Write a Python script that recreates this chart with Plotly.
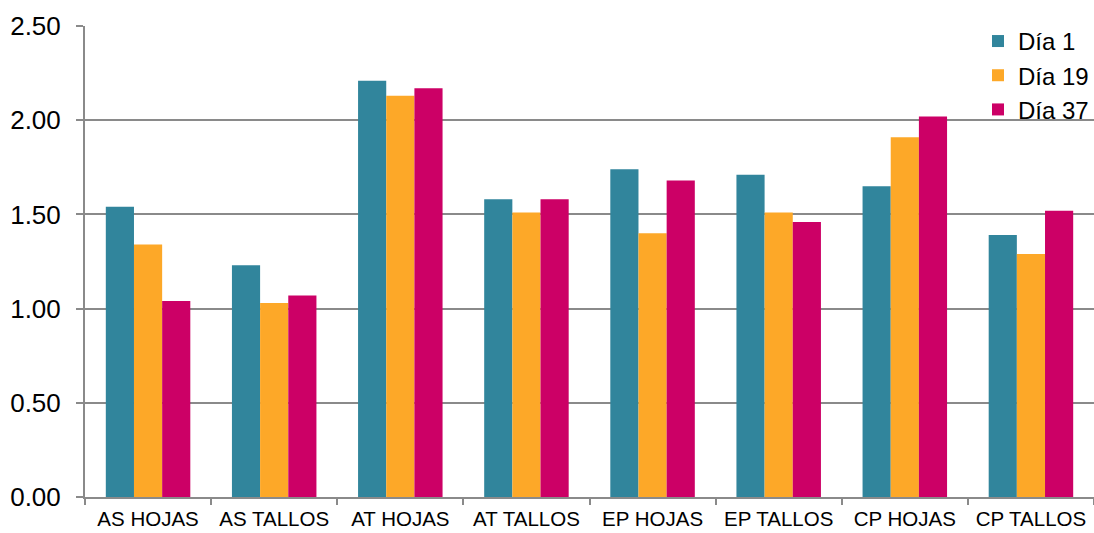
import plotly.graph_objects as go

categories = ["AS HOJAS", "AS TALLOS", "AT HOJAS", "AT TALLOS", "EP HOJAS", "EP TALLOS", "CP HOJAS", "CP TALLOS"]
dia1 = [1.54, 1.23, 2.21, 1.58, 1.74, 1.71, 1.65, 1.39]
dia19 = [1.34, 1.03, 2.13, 1.51, 1.40, 1.51, 1.91, 1.29]
dia37 = [1.04, 1.07, 2.17, 1.58, 1.68, 1.46, 2.02, 1.52]
series_names = ["Día 1", "Día 19", "Día 37"]
colors = ["#31859C", "#FDA828", "#CC0066"]

fig = go.Figure()
for name, vals, col in zip(series_names, [dia1, dia19, dia37], colors):
    fig.add_trace(go.Bar(x=categories, y=vals, name=name, marker=dict(color=col, line=dict(width=0))))

fig.update_layout(
    width=1094, height=533,
    margin=dict(l=85, r=0, t=26, b=36),
    paper_bgcolor="white", plot_bgcolor="white",
    barmode="group", bargap=0.33, bargroupgap=0,
    font=dict(family="Liberation Sans, Arial, sans-serif", color="#000000"),
    legend=dict(x=1, xanchor="right", y=1.015, yanchor="top", font=dict(size=24),
                bgcolor="rgba(255,255,255,0)", itemwidth=30, tracegroupgap=0),
    xaxis=dict(showline=True, linecolor="#8a8a8a", linewidth=2,
               ticks="outside", tickson="boundaries", ticklen=6, tickcolor="#8a8a8a", tickwidth=2,
               tickfont=dict(size=20.5), showgrid=False, ticklabelstandoff=2),
    yaxis=dict(range=[0, 2.5], dtick=0.5, tickformat=".2f", showline=True, linecolor="#8a8a8a", linewidth=2,
               ticks="outside", ticklen=7, tickcolor="#8a8a8a", tickwidth=2,
               tickfont=dict(size=26), showgrid=True, gridcolor="#8a8a8a", gridwidth=2,
               zeroline=False, ticklabelstandoff=10),
)

fig.write_html("out.html", config={"displayModeBar": False},
               post_script="document.body.style.margin='0';document.body.style.padding='0';")
